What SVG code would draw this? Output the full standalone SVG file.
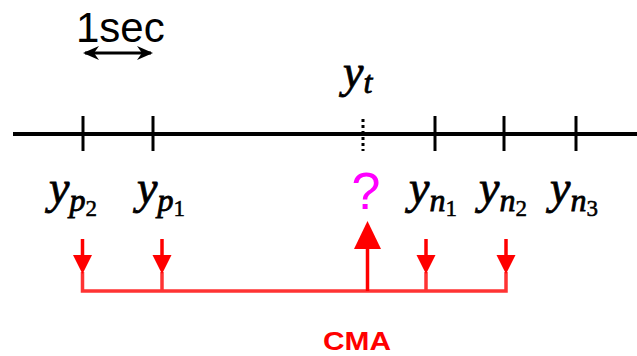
<svg xmlns="http://www.w3.org/2000/svg" width="637" height="356" viewBox="0 0 637 356">
<style>
.axis{stroke:#000;stroke-width:4;fill:none}
.tick{stroke:#000;stroke-width:3;fill:none}
.red{stroke:#ff3333;stroke-width:3.5;fill:none}
.redhead{fill:#ff0000;stroke:none}
.redshaft{stroke:#ff0000;stroke-width:3.5}
.math{font-family:"Liberation Serif","DejaVu Serif",serif;font-style:italic;fill:#000;stroke:#000;stroke-width:0.8}
.sub{font-size:32px}
.subsub{font-size:23px;font-style:normal;stroke-width:0.5}
</style>
<defs>
<marker id="dh" viewBox="0 0 16 14" refX="14" refY="7" markerWidth="16" markerHeight="14" markerUnits="userSpaceOnUse" orient="auto-start-reverse">
<path d="M0,0 L16,7 L0,14 L5,7 Z" fill="#000"/>
</marker>
</defs>
<rect width="637" height="356" fill="#fff"/>
<g id="scale">
<text x="76" y="42" font-family="Liberation Sans, Arial, sans-serif" font-size="42" fill="#000">1sec</text>
<line x1="85" y1="53" x2="151" y2="53" stroke="#000" stroke-width="3" marker-start="url(#dh)" marker-end="url(#dh)"/>
</g>
<g id="timeline">
<line class="axis" x1="13" y1="134" x2="637" y2="134"/>
<line class="tick" x1="83" y1="116" x2="83" y2="151"/>
<line class="tick" x1="153" y1="116" x2="153" y2="151"/>
<line class="tick" x1="435" y1="116" x2="435" y2="151"/>
<line class="tick" x1="504" y1="116" x2="504" y2="151"/>
<line class="tick" x1="576" y1="116" x2="576" y2="151"/>
<line x1="363" y1="119" x2="363" y2="151" stroke="#000" stroke-width="3" stroke-dasharray="3,3"/>
</g>
<g id="label-yt"><text class="math" x="343" y="87" font-size="46">y<tspan class="sub" dy="6">t</tspan></text></g>
<g id="label-yp2"><text class="math" x="49" y="203" font-size="46">y<tspan class="sub" dy="8">p</tspan><tspan class="subsub" dy="5">2</tspan></text></g>
<g id="label-yp1"><text class="math" x="137" y="203" font-size="46">y<tspan class="sub" dy="8">p</tspan><tspan class="subsub" dy="5">1</tspan></text></g>
<g id="label-q"><text x="366" y="209" text-anchor="middle" font-family="Liberation Sans, Arial, sans-serif" font-size="52" fill="#ff00ff">?</text></g>
<g id="label-yn1"><text class="math" x="409" y="203" font-size="46">y<tspan class="sub" dy="8">n</tspan><tspan class="subsub" dy="5">1</tspan></text></g>
<g id="label-yn2"><text class="math" x="479" y="203" font-size="46">y<tspan class="sub" dy="8">n</tspan><tspan class="subsub" dy="5">2</tspan></text></g>
<g id="label-yn3"><text class="math" x="550" y="203" font-size="46">y<tspan class="sub" dy="8">n</tspan><tspan class="subsub" dy="5">3</tspan></text></g>
<g id="connectors">
<polyline class="red" points="82.5,272 82.5,291 506,291 506,272"/>
<line class="red" x1="162" y1="272" x2="162" y2="291"/>
<line class="red" x1="426" y1="272" x2="426" y2="291"/>
<line class="redshaft" x1="82.5" y1="239" x2="82.5" y2="257"/>
<path class="redhead" d="M73,255 L92,255 L82.5,274 Z"/>
<line class="redshaft" x1="162" y1="239" x2="162" y2="257"/>
<path class="redhead" d="M152.5,255 L171.5,255 L162,274 Z"/>
<line class="redshaft" x1="426" y1="239" x2="426" y2="257"/>
<path class="redhead" d="M416.5,255 L435.5,255 L426,274 Z"/>
<line class="redshaft" x1="506" y1="239" x2="506" y2="257"/>
<path class="redhead" d="M496.5,255 L515.5,255 L506,274 Z"/>
<line class="redshaft" x1="367.5" y1="246" x2="367.5" y2="291"/>
<path class="redhead" d="M367.5,221 L381,249 L354,249 Z"/>
</g>
<g id="label-cma"><text x="357" y="350" text-anchor="middle" font-family="Liberation Sans, Arial, sans-serif" font-weight="bold" font-size="25" fill="#ff0000" textLength="68" lengthAdjust="spacingAndGlyphs">CMA</text></g>
</svg>
